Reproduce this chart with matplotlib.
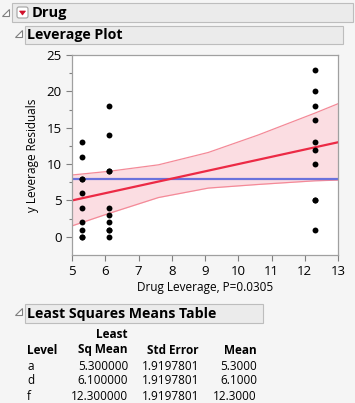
import matplotlib
matplotlib.use("Agg")
import matplotlib.pyplot as plt
from matplotlib.patches import Rectangle, Polygon, FancyBboxPatch

plt.rcParams['font.family'] = ['Open Sans', 'DejaVu Sans']

# data
lev_a = [5.3] * 10
y_a = [0, 0, 1, 2, 4, 6, 8, 8, 11, 13]
lev_d = [6.1] * 10
y_d = [0, 1, 1, 2, 3, 4, 9, 9, 14, 18]
lev_f = [12.3] * 10
y_f = [1, 5, 5, 10, 12, 13, 16, 18, 20, 23]

fit_x = [5, 13]
fit_y = [5, 13]
mean_y = 7.9

band_x = [5, 6.1, 7.6, 9.1, 10.6, 12.3, 13]
band_hi = [8.5, 9.0, 9.9, 11.6, 14.0, 17.0, 18.3]
band_lo = [1.5, 3.2, 5.4, 6.7, 7.2, 7.7, 7.8]

levels = ['a', 'd', 'f']
ls_mean = ['5.300000', '6.100000', '12.300000']
std_err = ['1.9197801', '1.9197801', '1.9197801']
means = ['5.3000', '6.1000', '12.3000']

W, H = 355, 403
bg = '#f5f5f5'
fig = plt.figure(figsize=(W / 100, H / 100), dpi=100, facecolor=bg)

# overlay in pixel coordinates for the JMP outline boxes
ov = fig.add_axes([0, 0, 1, 1])
ov.set_xlim(0, W)
ov.set_ylim(H, 0)
ov.axis('off')
ov.set_facecolor('none')


def triangle(x, y):
    ov.add_patch(Polygon([[x + 7, y], [x + 7, y + 7], [x, y + 7]], closed=True,
                         facecolor='white', edgecolor='#808080', lw=0.8))


def header(x0, y0, x1, y1, text):
    ov.add_patch(Rectangle((x0, y0), x1 - x0, y1 - y0, facecolor='#ebebeb',
                           edgecolor='#bdbdbd', lw=0.8))
    ov.text(x0 + 2, (y0 + y1) / 2 + 0.5, text, fontsize=10.2, fontweight='bold',
            va='center', ha='left', color='black')


triangle(2, 9)
ov.add_patch(Rectangle((12, 3), 341, 19, facecolor='#ebebeb', edgecolor='#bdbdbd', lw=0.8))
ov.add_patch(FancyBboxPatch((17, 7), 11, 11, boxstyle='round,pad=0,rounding_size=2',
                            facecolor='white', edgecolor='#a0a0a0', lw=0.8))
ov.add_patch(Polygon([[19.5, 11], [25.5, 11], [22.5, 15]], closed=True,
                     facecolor='#d0102a', edgecolor='#d0102a', lw=0.5))
ov.text(32, 13, 'Drug', fontsize=10.5, fontweight='bold', va='center', ha='left')

triangle(15, 30)
header(25, 26, 343, 44, 'Leverage Plot')

triangle(15, 308)
header(25, 304, 263, 323, 'Least Squares Means Table')

# table
ov.text(128, 334, 'Least', fontsize=8.5, fontweight='bold', ha='right', va='center')
ov.text(27, 350, 'Level', fontsize=8.5, fontweight='bold', ha='left', va='center')
ov.text(128, 350, 'Sq Mean', fontsize=8.5, fontweight='bold', ha='right', va='center')
ov.text(199, 350, 'Std Error', fontsize=8.5, fontweight='bold', ha='right', va='center')
ov.text(257, 350, 'Mean', fontsize=8.5, fontweight='bold', ha='right', va='center')
for i in range(len(levels)):
    yy = 366 + i * 15
    ov.text(27, yy, levels[i], fontsize=8.5, ha='left', va='center')
    ov.text(128, yy, ls_mean[i], fontsize=8.5, ha='right', va='center')
    ov.text(199, yy, std_err[i], fontsize=8.5, ha='right', va='center')
    ov.text(257, yy, means[i], fontsize=8.5, ha='right', va='center')

# leverage plot
ax = fig.add_axes([72 / W, 1 - 255 / H, 266 / W, 200 / H])
ax.set_facecolor('white')
ax.fill_between(band_x, band_lo, band_hi, color='#fbdde2', lw=0)
ax.plot(band_x, band_hi, color='#f48a98', lw=0.9)
ax.plot(band_x, band_lo, color='#f48a98', lw=0.9)
ax.axhline(mean_y, color='#6a72dc', lw=1.6)
ax.plot(fit_x, fit_y, color='#ec2a45', lw=1.6)
for lx, ly in [(lev_a, y_a), (lev_d, y_d), (lev_f, y_f)]:
    ax.scatter(lx, ly, s=18, color='black', zorder=5, lw=0)

ax.set_xlim(5, 13)
ax.set_ylim(-2.5, 25)
ax.set_xticks(range(5, 14))
ax.set_yticks([0, 5, 10, 15, 20, 25])
ax.set_yticks([2.5, 7.5, 12.5, 17.5, 22.5], minor=True)
ax.tick_params(axis='both', labelsize=9.5, color='#808080', length=4, width=0.8)
ax.tick_params(axis='y', which='minor', length=2.5, color='#808080', width=0.8)
for sp in ax.spines.values():
    sp.set_color('#a0a0a0')
    sp.set_linewidth(0.9)
ax.set_xlabel('Drug Leverage, P=0.0305', fontsize=8.5, labelpad=2)
ax.set_ylabel('y Leverage Residuals', fontsize=8.5, labelpad=5)

fig.savefig('out.png', dpi=100, facecolor=bg)
